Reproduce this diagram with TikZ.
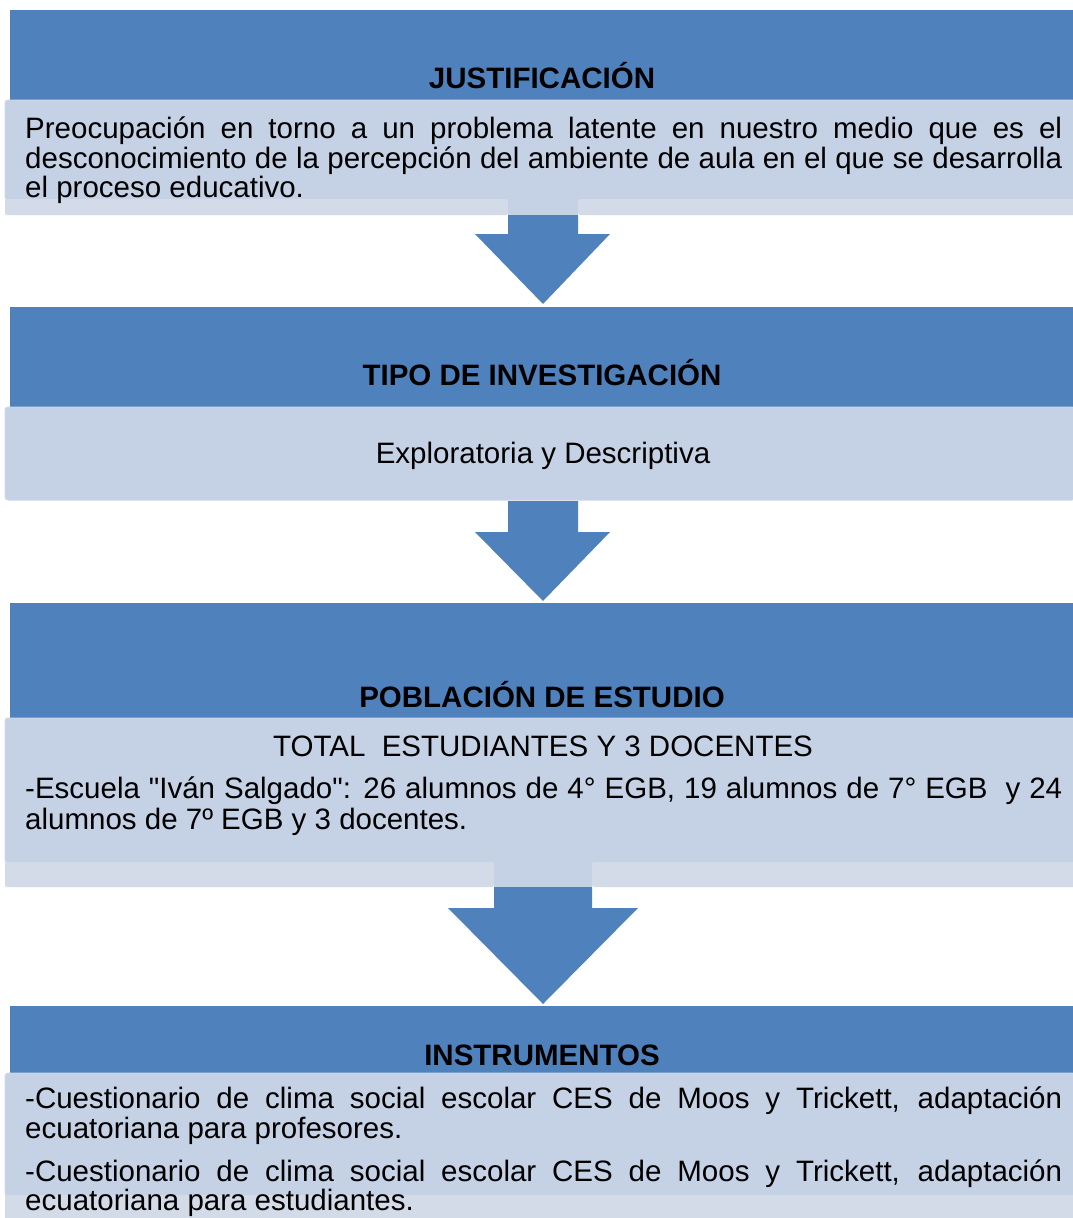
\documentclass[tikz,border=0pt]{standalone}
\usepackage{fontspec}
\setmainfont{Liberation Sans}[Ligatures=TeXOff]
\definecolor{darkb}{HTML}{4F81BD}
\definecolor{lightb}{HTML}{C5D1E5}
\definecolor{stripb}{HTML}{D3DAE8}
\definecolor{edgeb}{HTML}{CED8E9}
\begin{document}
\begin{tikzpicture}[x=1pt,y=-1pt,
  head/.style={fill=darkb},
  lbox/.style={fill=lightb,draw=edgeb,line width=1pt,rounded corners=3pt},
  lstrip/.style={fill=stripb,rounded corners=2pt},
  barrow/.style={fill=darkb},
  htext/.style={anchor=base,inner sep=0pt,font=\fontsize{29.5}{30}\selectfont\bfseries},
  btext/.style={anchor=base west,inner sep=0pt,font=\fontsize{29.5}{30}\selectfont},
  ctext/.style={anchor=base,inner sep=0pt,font=\fontsize{29.5}{30}\selectfont}]
\useasboundingbox (0,0) rectangle (1073,1218);
\fill[white] (0,0) rectangle (1073,1218);
% ---------- block 1
\fill[head] (10,10) rectangle (1073,100);
\fill[lbox] (5,100) rectangle (1075,200);
\fill[lstrip] (5,199) rectangle (508,215);
\fill[lstrip] (578,199) rectangle (1075,215);
\fill[lightb] (508,199) rectangle (578,215);
\fill[barrow] (508,215) -- (508,234) -- (475,234) -- (543,304) -- (610,234) -- (578,234) -- (578,215) -- cycle;
\node[htext] (h1) at (542,88) {JUSTIFICACIÓN};
\node[btext] (t1a) at (25,138) {\makebox[1037pt][s]{Preocupación en torno a un problema latente en nuestro medio que es el}};
\node[btext] (t1b) at (25,168) {\makebox[1037pt][s]{desconocimiento de la percepción del ambiente de aula en el que se desarrolla}};
\node[btext] (t1c) at (25,197) {el proceso educativo.};
% ---------- block 2
\fill[head] (10,307) rectangle (1073,407);
\fill[lbox] (5,407) rectangle (1075,500);
\fill[barrow] (508,501) -- (508,532) -- (475,532) -- (543,601) -- (610,532) -- (578,532) -- (578,501) -- cycle;
\node[htext] (h2) at (542,385) {TIPO DE INVESTIGACIÓN};
\node[ctext] (t2) at (543,463) {Exploratoria y Descriptiva};
% ---------- block 3
\fill[head] (10,603) rectangle (1073,718);
\fill[lbox] (5,718) rectangle (1075,863);
\fill[lstrip] (5,862) rectangle (494,887);
\fill[lstrip] (592,862) rectangle (1075,887);
\fill[lightb] (494,862) rectangle (592,887);
\fill[barrow] (494,887) -- (494,908) -- (448,908) -- (543,1004) -- (638,908) -- (592,908) -- (592,887) -- cycle;
\node[htext] (h3) at (542,707) {POBLACIÓN DE ESTUDIO};
\node[ctext] (t3a) at (543,756) {TOTAL\ \ ESTUDIANTES Y 3 DOCENTES};
\node[btext] (t3b) at (25,798) {\makebox[1037pt][s]{-Escuela "Iván Salgado": 26 alumnos de 4° EGB, 19 alumnos de 7° EGB\ \ y 24}};
\node[btext] (t3c) at (25,829) {alumnos de 7º EGB y 3 docentes.};
% ---------- block 4
\fill[head] (10,1006) rectangle (1073,1073);
\fill[lbox] (5,1073) rectangle (1075,1196);
\fill[stripb] (5,1195) rectangle (1075,1220);
\node[htext] (h4) at (542,1065) {INSTRUMENTOS};
\node[btext] (t4a) at (25,1108) {\makebox[1037pt][s]{-Cuestionario de clima social escolar CES de Moos y Trickett, adaptación}};
\node[btext] (t4b) at (25,1138) {ecuatoriana para profesores.};
\node[btext] (t4c) at (25,1181) {\makebox[1037pt][s]{-Cuestionario de clima social escolar CES de Moos y Trickett, adaptación}};
\node[btext] (t4d) at (25,1210) {ecuatoriana para estudiantes.};
\end{tikzpicture}
\end{document}
